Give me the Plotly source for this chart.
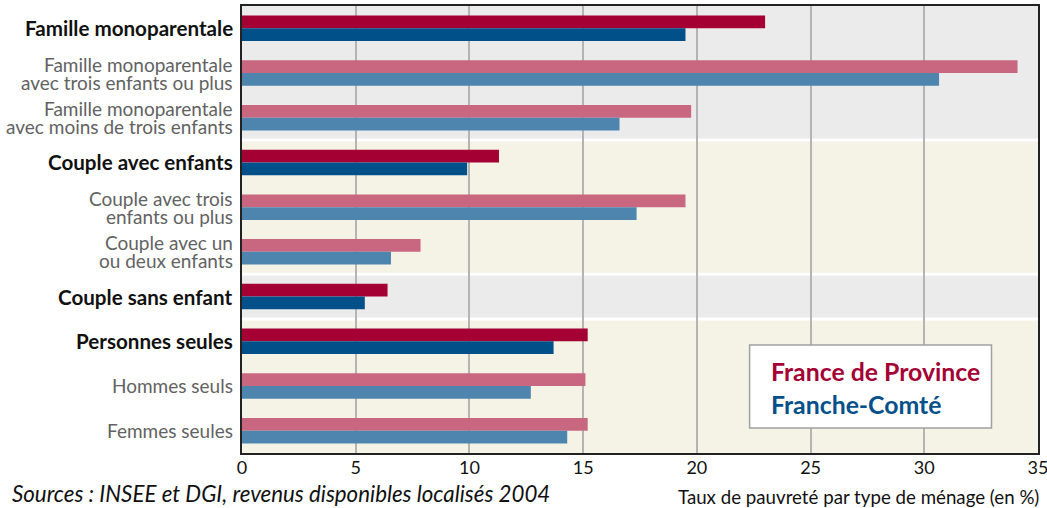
import plotly.graph_objects as go

categories = [
    "Famille monoparentale",
    "Famille monoparentale avec trois enfants ou plus",
    "Famille monoparentale avec moins de trois enfants",
    "Couple avec enfants",
    "Couple avec trois enfants ou plus",
    "Couple avec un ou deux enfants",
    "Couple sans enfant",
    "Personnes seules",
    "Hommes seuls",
    "Femmes seules",
]
tick_labels = [
    ["Famille monoparentale"],
    ["Famille monoparentale", "avec trois enfants ou plus"],
    ["Famille monoparentale", "avec moins de trois enfants"],
    ["Couple avec enfants"],
    ["Couple avec trois", "enfants ou plus"],
    ["Couple avec un", "ou deux enfants"],
    ["Couple sans enfant"],
    ["Personnes seules"],
    ["Hommes seuls"],
    ["Femmes seules"],
]
is_main = [True, False, False, True, False, False, True, True, False, False]
france_province = [23.0, 34.1, 19.75, 11.3, 19.5, 7.85, 6.4, 15.2, 15.1, 15.2]
franche_comte = [19.5, 30.65, 16.6, 9.9, 17.35, 6.55, 5.4, 13.7, 12.7, 14.3]
x_ticks = [0, 5, 10, 15, 20, 25, 30, 35]
series_names = ["France de Province", "Franche-Comté"]

FONT = "Lato"
FP_DARK, FP_LIGHT = "#A50034", "#C96780"
FC_DARK, FC_LIGHT = "#02508A", "#4E85AF"
GREY_BAND, BEIGE_BAND = "#EBEBEB", "#F5F3E6"

fig = go.Figure()
fig.add_trace(go.Bar(
    y=categories, x=france_province, orientation="h", name=series_names[0],
    marker=dict(color=[FP_DARK if m else FP_LIGHT for m in is_main], line=dict(width=0)),
    hoverinfo="x+y",
))
fig.add_trace(go.Bar(
    y=categories, x=franche_comte, orientation="h", name=series_names[1],
    marker=dict(color=[FC_DARK if m else FC_LIGHT for m in is_main], line=dict(width=0)),
    hoverinfo="x+y",
))

# background bands per group
bands = [(-0.5, 2.5, GREY_BAND), (2.5, 5.5, BEIGE_BAND), (5.5, 6.5, GREY_BAND), (6.5, 9.5, BEIGE_BAND)]
shapes = []
for y0, y1, c in bands:
    shapes.append(dict(type="rect", xref="paper", yref="y", x0=0, x1=1, y0=y0, y1=y1,
                       fillcolor=c, line=dict(width=0), layer="below"))
for yb in [2.5, 5.5, 6.5]:
    shapes.append(dict(type="line", xref="paper", yref="y", x0=0, x1=1, y0=yb, y1=yb,
                       line=dict(color="white", width=3), layer="below"))
# legend box
shapes.append(dict(type="rect", xref="paper", yref="paper", x0=0.6377, x1=0.9416,
                   y0=0.0559, y1=0.2416, fillcolor="white",
                   line=dict(color="#A0A0A0", width=1.5), layer="above"))

annotations = [
    dict(text=f"<b>{series_names[0]}</b>", xref="paper", yref="paper", x=0.6615, y=0.1834,
         xanchor="left", yanchor="middle", showarrow=False,
         font=dict(family=FONT, size=24.8, color=FP_DARK)),
    dict(text=f"<b>{series_names[1]}</b>", xref="paper", yref="paper", x=0.6615, y=0.1074,
         xanchor="left", yanchor="middle", showarrow=False,
         font=dict(family=FONT, size=24.8, color=FC_DARK)),
    dict(text="<i>Sources : INSEE et DGI, revenus disponibles localisés 2004</i>",
         xref="paper", yref="paper", x=-0.2905, y=-0.0895, xanchor="left", yanchor="middle",
         borderpad=0, showarrow=False, font=dict(family=FONT, size=22.3, color="#111111")),
    dict(text="Taux de pauvreté par type de ménage (en %)",
         xref="paper", yref="paper", x=1.0, y=-0.0984, xanchor="right", yanchor="middle",
         xshift=3, showarrow=False, font=dict(family=FONT, size=18.7, color="#111111")),
]

# category labels (one annotation per line for tight line spacing)
for cat, lines, main in zip(categories, tick_labels, is_main):
    n = len(lines)
    for k, line in enumerate(lines):
        shift = (n - 1) / 2 * 18 - k * 18
        annotations.append(dict(
            text=f"<b>{line}</b>" if main else line,
            xref="paper", yref="y", x=0, y=cat, xanchor="right", yanchor="middle",
            xshift=-7, yshift=shift, showarrow=False,
            font=dict(family=FONT, size=20.6 if main else 19,
                      color="#111111" if main else "#626262"),
        ))

fig.update_layout(
    width=1047, height=508,
    margin=dict(l=242, r=9, t=6, b=55),
    paper_bgcolor="white", plot_bgcolor="white",
    barmode="group", bargap=0.43, bargroupgap=0,
    showlegend=False,
    font=dict(family=FONT, color="#111111"),
    shapes=shapes, annotations=annotations,
    xaxis=dict(range=[0, 35], tickvals=x_ticks, ticktext=[str(v) for v in x_ticks],
               showgrid=True, gridcolor="#B4B4B4", gridwidth=1.5,
               showline=True, linecolor="#222222", linewidth=2, mirror=True,
               zeroline=False, ticks="", tickfont=dict(family=FONT, size=18, color="#111111"),
               ticklabelstandoff=-3, ticklabeloverflow="allow",
               fixedrange=True, automargin=False),
    yaxis=dict(type="category", categoryorder="array", categoryarray=categories,
               autorange="reversed", showticklabels=False,
               showgrid=False, showline=True, linecolor="#222222", linewidth=2, mirror=True,
               ticks="", fixedrange=True, automargin=False),
)

fig.write_html("out.html", config={"displayModeBar": False},
               post_script="document.body.style.margin='0';document.body.style.overflow='hidden';")
